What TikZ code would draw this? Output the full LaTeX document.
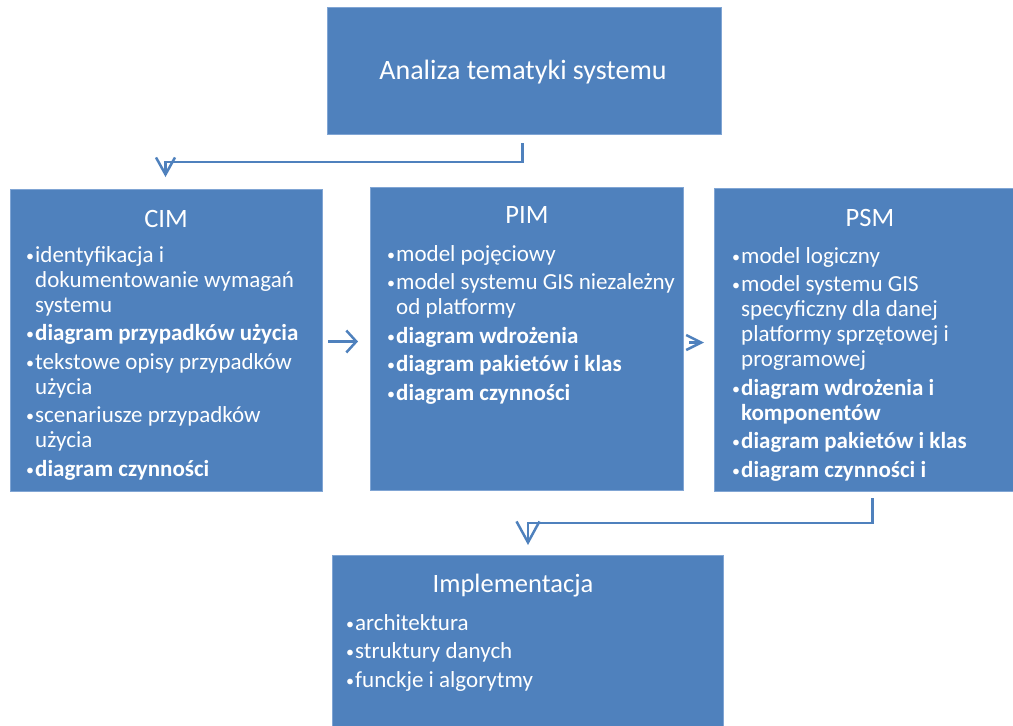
\documentclass[tikz,border=0pt]{standalone}
\usepackage{fontspec}
\setmainfont{Carlito}
\usetikzlibrary{arrows.meta}

\definecolor{boxblue}{RGB}{79,129,189}
\definecolor{edgeblue}{RGB}{128,165,212}

% one bullet item with a hanging indent; lines inside an item are broken with \newline
\newlength\bulletw
\setlength\bulletw{9pt}
\newcommand\li[1]{\par\hangindent=\bulletw\hangafter=1\noindent
  \hbox to \bulletw{{\fontsize{16pt}{16pt}\selectfont\raisebox{0.6pt}{•}}\hss}#1}
\newenvironment{bulletlist}
  {\begin{minipage}[t]{300pt}\raggedright
   \fontsize{23pt}{25pt}\selectfont\setlength\parskip{3.5pt}}
  {\end{minipage}}

\tikzset{
  stage/.style={draw=edgeblue, line width=1pt, fill=boxblue,
    inner sep=0pt, anchor=north west},
  head/.style={text=white, font=\fontsize{26.5pt}{30pt}\selectfont,
    anchor=base, inner sep=0pt},
  items/.style={text=white, anchor=base west, inner sep=0pt},
  conn/.style={draw=boxblue, line width=2.5pt},
}

\begin{document}
\begin{tikzpicture}[x=1pt, y=-1pt]
\useasboundingbox (0,0) rectangle (1013,726);

% boxes
\node[stage, minimum width=394pt, minimum height=127pt] (top)  at (327,7)   {};
\node[stage, minimum width=312pt, minimum height=302pt] (cim)  at (10,189)  {};
\node[stage, minimum width=313pt, minimum height=303pt] (pim)  at (370,187) {};
\node[stage, minimum width=313pt, minimum height=303pt] (psm)  at (714,188) {};
\node[stage, minimum width=391pt, minimum height=190pt] (impl) at (332,555) {};

% headings
\node[head, font=\fontsize{28pt}{32pt}\selectfont] (topT) at (523,79) {Analiza tematyki systemu};
\node[head] (cimT)  at (166,227) {CIM};
\node[head] (pimT)  at (527,223) {PIM};
\node[head] (psmT)  at (870,226) {PSM};
\node[head] (implT) at (513,592) {Implementacja};

% item lists
\node[items] (cimL) at (26,262) {\begin{bulletlist}
  \li{identyfikacja i\newline dokumentowanie wymagań\newline systemu}
  \li{\textbf{diagram przypadków użycia}}
  \li{tekstowe opisy przypadków\newline użycia}
  \li{scenariusze przypadków\newline użycia}
  \li{\textbf{diagram czynności}}
\end{bulletlist}};

\node[items] (pimL) at (387,261) {\begin{bulletlist}
  \li{model pojęciowy}
  \li{model systemu GIS niezależny\newline od platformy}
  \li{\textbf{diagram wdrożenia}}
  \li{\textbf{diagram pakietów i klas}}
  \li{\textbf{diagram czynności}}
\end{bulletlist}};

\node[items] (psmL) at (732,263) {\begin{bulletlist}
  \li{model logiczny}
  \li{model systemu GIS\newline specyficzny dla danej\newline platformy sprzętowej i\newline programowej}
  \li{\textbf{diagram wdrożenia i\newline komponentów}}
  \li{\textbf{diagram pakietów i klas}}
  \li{\textbf{diagram czynności i}}
\end{bulletlist}};

\node[items] (implL) at (346,630) {\begin{bulletlist}
  \li{architektura}
  \li{struktury danych}
  \li{funckje i algorytmy}
\end{bulletlist}};

% connectors
\draw[conn, -{Straight Barb[length=17pt,width=19pt]}]
  ([xshift=-2pt,yshift=-8pt]top.south) |- ([xshift=-1pt,yshift=27pt]cim.north)
  -- ([xshift=-1pt,yshift=12pt]cim.north);
\draw[conn, -{Straight Barb[length=10pt,width=22pt]}]
  ([xshift=5pt,yshift=-1pt]cim.east) -- ([xshift=-12pt,yshift=-2.5pt]pim.west);
\draw[conn, -{Straight Barb[length=15pt,width=15pt]}]
  ([xshift=5pt,yshift=-3.5pt]pim.east) -- ([xshift=-10pt,yshift=-2.5pt]psm.west);
\draw[conn, -{Straight Barb[length=21pt,width=23pt]}]
  ([xshift=1.5pt,yshift=-6pt]psm.south) |- ([yshift=32pt]impl.north)
  -- ([yshift=10pt]impl.north);
\end{tikzpicture}
\end{document}
